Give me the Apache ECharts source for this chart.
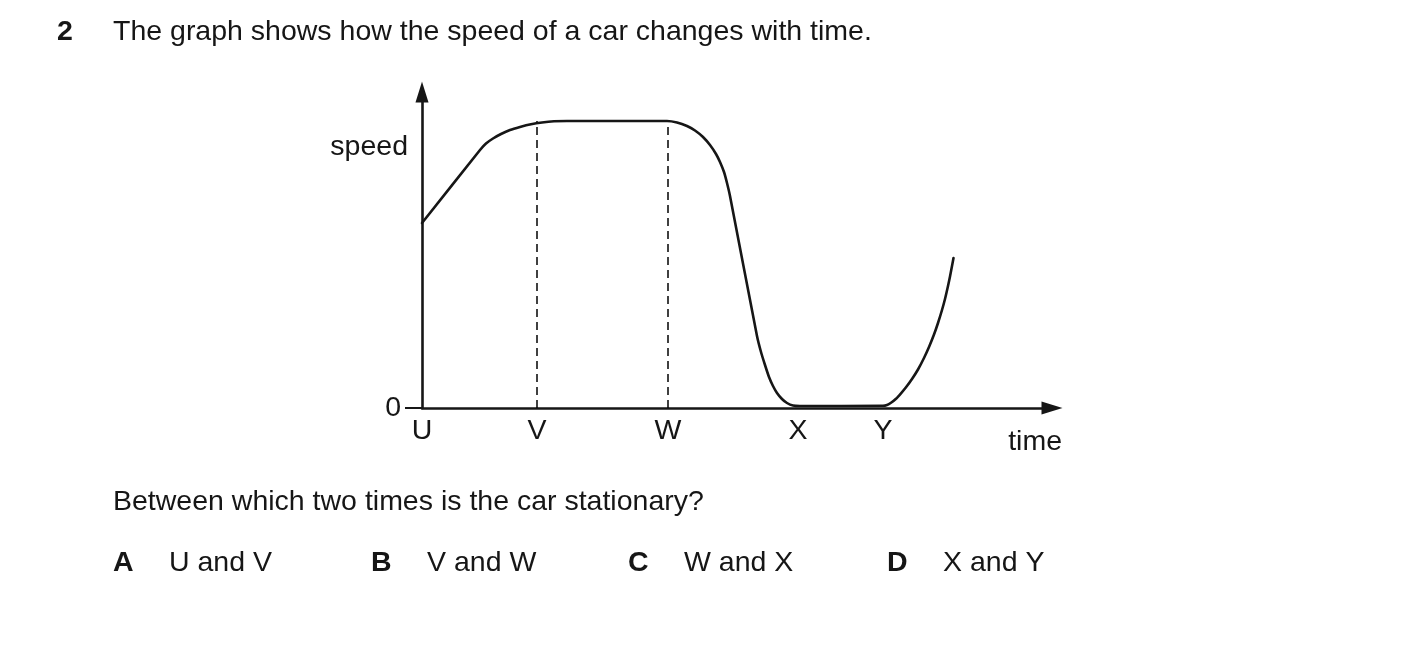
<!DOCTYPE html>
<html>
<head>
<meta charset="utf-8">
<script src="https://cdn.jsdelivr.net/npm/echarts@6/dist/echarts.min.js"></script>
<style>
html,body{margin:0;padding:0;background:#fff;}
#chart{width:1403px;height:672px;}
</style>
</head>
<body>
<div id="chart"></div>
<script>
// ---- data (arbitrary units: time from U, speed from 0) ----
var tickLabels = ['U', 'V', 'W', 'X', 'Y'];
var tickPositions = [0, 11.5, 24.6, 37.6, 46.1];
var timeValues  = [0, 5.8, 6.4, 7.1, 7.9, 8.8, 9.8, 10.9, 12.0, 13.2, 14.5,
                   24.5, 25.5, 26.5, 27.3, 28.1, 28.8, 29.4, 29.8, 30.2, 30.5, 30.8,
                   33.5, 33.9, 34.3, 34.7, 35.1, 35.5, 36.0, 36.5, 37.1, 37.8,
                   46.1, 46.5, 46.9, 47.4, 47.9, 48.4, 49.0, 49.6, 50.2, 50.7, 51.2, 51.6, 52.0, 52.3, 52.6, 52.8, 53.0, 53.15];
var speedValues = [18.5, 25.8, 26.45, 26.95, 27.4, 27.8, 28.1, 28.37, 28.55, 28.67, 28.7,
                   28.7, 28.55, 28.2, 27.75, 27.1, 26.3, 25.4, 24.6, 23.6, 22.5, 21.2,
                   7.2, 5.6, 4.3, 3.1, 2.2, 1.5, 0.9, 0.5, 0.25, 0.2,
                   0.22, 0.3, 0.52, 0.92, 1.47, 2.07, 2.9, 3.85, 5.0, 6.1, 7.35, 8.5, 9.8, 10.9, 12.2, 13.15, 14.2, 15.0];
var plateauSpeed = 28.7;
var yTickValues = [0];
var yTickLabels = ['0'];
var axisNames = { x: 'time', y: 'speed' };
var questionNumber = '2';
var introText = 'The graph shows how the speed of a car changes with time.';
var questionText = 'Between which two times is the car stationary?';
var optionLetters = ['A', 'B', 'C', 'D'];
var optionTexts = ['U and V', 'V and W', 'W and X', 'X and Y'];

var FONT = '"Liberation Sans", Arial, sans-serif';
var FS = 28.5;
var INK = '#161616';

var curveData = timeValues.map(function (t, i) { return [t, speedValues[i]]; });

var series = [{
  type: 'line',
  data: curveData,
  smooth: 0.2,
  symbol: 'none',
  lineStyle: { color: INK, width: 2.6, join: 'round', cap: 'round' },
  z: 5
}];
[1, 2].forEach(function (k) {
  series.push({
    type: 'line',
    data: [[tickPositions[k], 0], [tickPositions[k], plateauSpeed]],
    symbol: 'none',
    lineStyle: { color: '#000', width: 1.5, type: [8, 5] },
    z: 3
  });
});

var graphics = [];
function txt(text, x, y, opts) {
  opts = opts || {};
  graphics.push({
    type: 'text',
    x: x, y: y,
    style: {
      text: text,
      font: (opts.bold ? 'bold ' : '') + FS + 'px ' + FONT,
      fill: INK,
      align: opts.align || 'left',
      verticalAlign: 'middle'
    }
  });
}
txt(questionNumber, 57, 32, { bold: true });
txt(introText, 113, 32);
txt(axisNames.y, 408, 147, { align: 'right' });
txt(axisNames.x, 1062, 442, { align: 'right' });
txt(questionText, 113, 502);
var optX = [113, 371, 628, 887];
optionLetters.forEach(function (L, i) {
  txt(L, optX[i], 563, { bold: true });
  txt(optionTexts[i], optX[i] + 56, 563);
});

var chart = echarts.init(document.getElementById('chart'), null, { renderer: 'canvas' });
chart.setOption({
  backgroundColor: '#ffffff',
  animation: false,
  grid: { left: 422, top: 92, right: 351, bottom: 264, containLabel: false },
  xAxis: {
    type: 'value', min: 0, max: 63,
    splitLine: { show: false },
    axisLine: { show: true, onZero: false, symbol: ['none', 'triangle'], symbolSize: [13, 21],
      lineStyle: { color: INK, width: 2.6 } },
    axisTick: { show: false },
    axisLabel: {
      show: true, customValues: tickPositions, margin: 9,
      fontSize: FS, fontFamily: FONT, color: INK,
      formatter: function (v) { return tickLabels[tickPositions.indexOf(v)]; }
    }
  },
  yAxis: {
    type: 'value', min: 0, max: 31.6,
    splitLine: { show: false },
    axisLine: { show: true, onZero: false, symbol: ['none', 'triangle'], symbolSize: [13, 21],
      lineStyle: { color: INK, width: 2.6 } },
    axisTick: { show: true, customValues: yTickValues, length: 17, lineStyle: { color: INK, width: 2 } },
    axisLabel: {
      show: true, customValues: yTickValues, margin: 21, padding: [4, 0, 0, 0],
      fontSize: FS, fontFamily: FONT, color: INK,
      formatter: function (v) { return yTickLabels[yTickValues.indexOf(v)]; }
    }
  },
  series: series,
  graphic: graphics
});
</script>
</body>
</html>
